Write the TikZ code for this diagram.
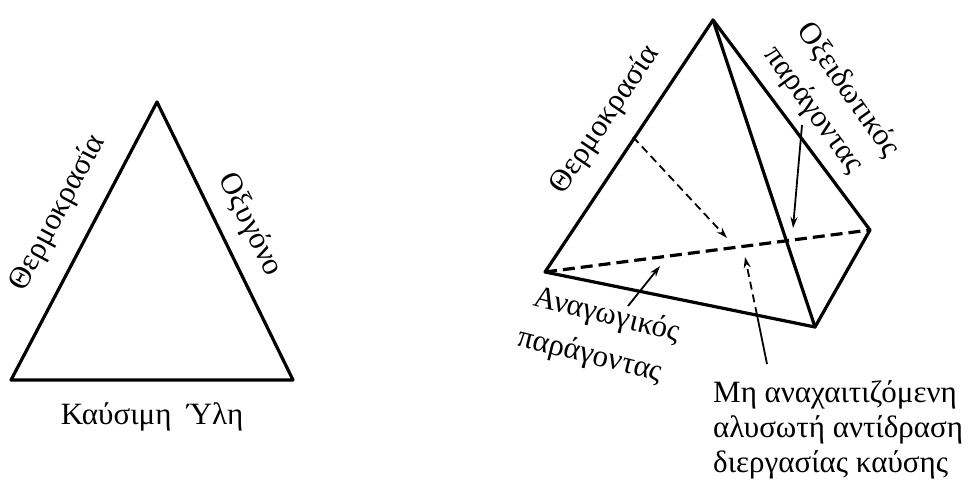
\documentclass[tikz,border=0pt]{standalone}
\usepackage{fontspec}
\setmainfont{Liberation Serif}
\usetikzlibrary{arrows.meta}
\begin{document}
\begin{tikzpicture}[x=1pt,y=-1pt,
  edge/.style={line width=3.2pt,line join=round,line cap=round},
  hidden/.style={line width=3.2pt,dash pattern=on 12pt off 6pt},
  lbl/.style={font=\fontsize{31}{35}\selectfont,inner sep=0pt},
  ptr/.style={line width=1.8pt,-{Stealth[length=11pt,width=7pt]}},
  ptrd/.style={line width=1.8pt,dash pattern=on 8pt off 5pt,-{Stealth[length=11pt,width=7pt]}}]
\useasboundingbox (0,0) rectangle (968,486);
% left triangle
\coordinate (LA) at (157,102);
\coordinate (LB) at (11,380);
\coordinate (LC) at (293,380);
\draw[edge] (LA) -- (LB) -- (LC) -- cycle;
\node[lbl,rotate=62] (tT) at (58,213) {Θερμοκρασία};
\node[lbl,rotate=-64] (tO) at (250,225) {Οξυγόνο};
\node[lbl] (tK) at (152,417) {Καύσιμη \ Ύλη};
% tetrahedron
\coordinate (A) at (713,20);
\coordinate (L) at (545,272);
\coordinate (R) at (870,230);
\coordinate (F) at (815,327);
\draw[hidden] (L) -- (R);
\draw[edge] (A) -- (L) -- (F) -- (R) -- cycle;
\draw[edge] (A) -- (F);
\node[lbl,rotate=56] (rT) at (605,120) {Θερμοκρασία};
\node[lbl,rotate=-55] (rOx) at (848,90) {Οξειδωτικός};
\node[lbl,rotate=-54] (rPa) at (813,110) {παράγοντας};
\node[lbl,rotate=-14] (rAn) at (607,316) {Αναγωγικός};
\node[lbl,rotate=-14] (rPb) at (590,356) {παράγοντας};
\node[lbl,align=left,anchor=north west] (rM) at (713,380) {Μη αναχαιτιζόμενη\\αλυσωτή αντίδραση\\διεργασίας καύσης};
% pointers
\coordinate (tTs) at (633,137);
\coordinate (tTe) at (727,238);
\draw[ptrd] (tTs) -- (tTe);
\coordinate (oxs) at (802,125);
\coordinate (oxe) at (793,228);
\draw[ptr] (oxs) -- (oxe);
\coordinate (ans) at (628,306);
\coordinate (ane) at (660,266);
\draw[ptr] (ans) -- (ane);
\coordinate (ms) at (767,364);
\coordinate (mm) at (757,315);
\coordinate (me) at (745,257);
\draw[line width=1.8pt] (ms) -- (mm);
\draw[ptrd] (mm) -- (me);
\end{tikzpicture}
\end{document}
